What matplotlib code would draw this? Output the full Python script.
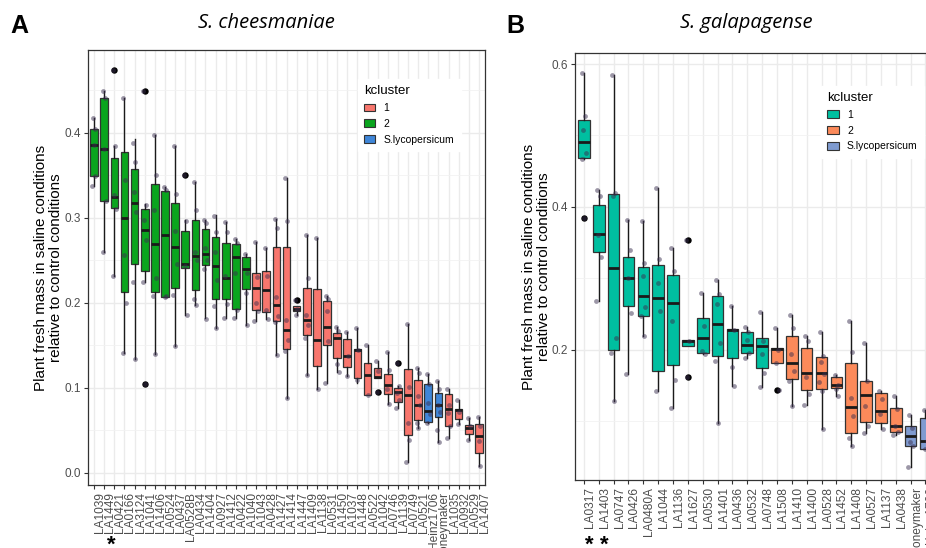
import matplotlib
matplotlib.use("Agg")
import matplotlib.pyplot as plt
from matplotlib.patches import Patch

plt.rcParams['font.family'] = ['Liberation Sans', 'DejaVu Sans']

# ---- panel A: S. cheesmaniae ----
names_a = ['LA1039', 'LA1449', 'LA0421', 'LA0166', 'LA3124', 'LA1041', 'LA1406', 'LA0524',
           'LA0437', 'LA0528B', 'LA0434', 'LA1404', 'LA0927', 'LA1412', 'LA0422', 'LA1040',
           'LA1043', 'LA0428', 'LA1427', 'LA1414', 'LA1447', 'LA1409', 'LA1138', 'LA0531',
           'LA1450', 'LA1037', 'LA1448', 'LA0522', 'LA1042', 'LA0746', 'LA1139', 'LA0749',
           'LA0521', 'Heinz1706', 'Moneymaker', 'LA1035', 'LA0932', 'LA0529', 'LA1407']
clust_a = ['2'] * 16 + ['1'] * 17 + ['S'] * 2 + ['1'] * 4
lo_a = [0.338, 0.260, 0.232, 0.141, 0.134, 0.225, 0.140, 0.207, 0.149, 0.186, 0.197, 0.182, 0.170,
        0.182, 0.182, 0.174, 0.179, 0.181, 0.139, 0.088, 0.186, 0.115, 0.098, 0.106, 0.118, 0.114,
        0.106, 0.092, 0.111, 0.081, 0.076, 0.013, 0.053, 0.058, 0.036, 0.041, 0.057, 0.038, 0.008]
q1_a = [0.349, 0.320, 0.312, 0.213, 0.246, 0.238, 0.213, 0.207, 0.218, 0.241, 0.215, 0.244, 0.204,
        0.204, 0.193, 0.216, 0.191, 0.189, 0.178, 0.146, 0.190, 0.162, 0.126, 0.150, 0.135, 0.124,
        0.111, 0.092, 0.111, 0.093, 0.083, 0.044, 0.062, 0.060, 0.066, 0.055, 0.063, 0.045, 0.023]
med_a = [0.386, 0.381, 0.325, 0.300, 0.318, 0.286, 0.269, 0.280, 0.266, 0.246, 0.255, 0.258, 0.243,
         0.229, 0.254, 0.240, 0.217, 0.215, 0.197, 0.168, 0.193, 0.180, 0.156, 0.172, 0.159, 0.137,
         0.144, 0.115, 0.113, 0.103, 0.095, 0.091, 0.080, 0.073, 0.080, 0.075, 0.074, 0.053, 0.043]
q3_a = [0.405, 0.441, 0.370, 0.377, 0.357, 0.310, 0.340, 0.332, 0.317, 0.284, 0.297, 0.287, 0.277,
        0.270, 0.269, 0.254, 0.235, 0.238, 0.266, 0.266, 0.196, 0.218, 0.216, 0.202, 0.164, 0.157,
        0.146, 0.129, 0.123, 0.116, 0.100, 0.122, 0.109, 0.104, 0.094, 0.093, 0.075, 0.056, 0.057]
hi_a = [0.417, 0.449, 0.384, 0.441, 0.393, 0.316, 0.398, 0.336, 0.385, 0.297, 0.342, 0.298, 0.303,
        0.295, 0.275, 0.258, 0.272, 0.265, 0.299, 0.347, 0.196, 0.280, 0.276, 0.208, 0.172, 0.166,
        0.170, 0.150, 0.132, 0.142, 0.102, 0.175, 0.123, 0.116, 0.108, 0.098, 0.086, 0.064, 0.066]
out_a = {'LA0421': [0.474], 'LA1041': [0.449, 0.104], 'LA0528B': [0.351], 'LA1447': [0.203],
         'LA1042': [0.0945], 'LA1139': [0.129]}
pts_a = [
    [0.417, 0.405, 0.386, 0.349, 0.338], [0.449, 0.441, 0.381, 0.320, 0.260],
    [0.474, 0.384, 0.327, 0.310, 0.232], [0.441, 0.345, 0.256, 0.200, 0.141],
    [0.388, 0.366, 0.330, 0.307, 0.225, 0.134], [0.449, 0.315, 0.298, 0.274, 0.225, 0.104],
    [0.398, 0.350, 0.309, 0.229, 0.208, 0.140], [0.336, 0.333, 0.207, 0.208],
    [0.384, 0.328, 0.285, 0.246, 0.209, 0.149], [0.351, 0.296, 0.243, 0.186],
    [0.342, 0.309, 0.260, 0.250, 0.204, 0.197], [0.298, 0.294, 0.264, 0.250, 0.240, 0.181],
    [0.302, 0.283, 0.260, 0.227, 0.196, 0.170], [0.295, 0.283, 0.231, 0.198, 0.182],
    [0.275, 0.270, 0.235, 0.192, 0.182], [0.258, 0.235, 0.211, 0.174],
    [0.272, 0.230, 0.200, 0.190, 0.179], [0.265, 0.231, 0.192, 0.181],
    [0.299, 0.288, 0.207, 0.185, 0.177, 0.139], [0.347, 0.296, 0.180, 0.156, 0.143, 0.088],
    [0.203, 0.193, 0.186], [0.280, 0.229, 0.186, 0.174, 0.158, 0.115],
    [0.276, 0.098], [0.208, 0.205, 0.190, 0.155, 0.106],
    [0.172, 0.167, 0.128, 0.118], [0.166, 0.137, 0.114],
    [0.170, 0.145, 0.109], [0.150, 0.092],
    [0.131, 0.120, 0.0945], [0.142, 0.121, 0.098, 0.081],
    [0.129, 0.102, 0.094, 0.086, 0.076], [0.175, 0.101, 0.059, 0.038, 0.013],
    [0.123, 0.117, 0.090, 0.080, 0.059, 0.053], [0.116, 0.104, 0.082, 0.069, 0.058],
    [0.108, 0.098, 0.080, 0.071, 0.050, 0.036], [0.098, 0.080, 0.070, 0.055, 0.041],
    [0.086, 0.072, 0.057], [0.064, 0.055, 0.038], [0.066, 0.055, 0.037, 0.008]]

# ---- panel B: S. galapagense ----
names_b = ['LA0317', 'LA1403', 'LA0747', 'LA0426', 'LA0480A', 'LA1044', 'LA1136', 'LA1627',
           'LA0530', 'LA1401', 'LA0436', 'LA0532', 'LA0748', 'LA1508', 'LA1410', 'LA1400',
           'LA0528', 'LA1452', 'LA1408', 'LA0527', 'LA1137', 'LA0438', 'Moneymaker', 'Heinz1706']
clust_b = ['1'] * 13 + ['2'] * 9 + ['S'] * 2
lo_b = [0.467, 0.269, 0.128, 0.166, 0.219, 0.142, 0.118, 0.205, 0.194, 0.098, 0.150, 0.188,
        0.148, 0.181, 0.121, 0.123, 0.089, 0.136, 0.065, 0.084, 0.089, 0.081, 0.036, 0.061]
q1_b = [0.469, 0.337, 0.200, 0.262, 0.248, 0.170, 0.179, 0.205, 0.196, 0.191, 0.188, 0.196,
        0.174, 0.181, 0.159, 0.144, 0.145, 0.146, 0.084, 0.099, 0.097, 0.085, 0.066, 0.061]
med_b = [0.491, 0.362, 0.315, 0.300, 0.276, 0.273, 0.265, 0.212, 0.216, 0.236, 0.228, 0.207,
         0.205, 0.201, 0.181, 0.167, 0.168, 0.151, 0.120, 0.137, 0.114, 0.094, 0.080, 0.073]
q3_b = [0.522, 0.402, 0.418, 0.330, 0.316, 0.318, 0.305, 0.214, 0.245, 0.275, 0.229, 0.225,
        0.216, 0.202, 0.220, 0.203, 0.190, 0.162, 0.181, 0.156, 0.140, 0.118, 0.094, 0.104]
hi_b = [0.587, 0.424, 0.584, 0.382, 0.380, 0.426, 0.343, 0.214, 0.279, 0.298, 0.261, 0.232,
        0.253, 0.230, 0.249, 0.219, 0.225, 0.165, 0.240, 0.210, 0.143, 0.136, 0.109, 0.116]
out_b = {'LA0317': [0.384], 'LA1627': [0.354, 0.162], 'LA1508': [0.144]}
pts_b = [
    [0.587, 0.527, 0.508, 0.475, 0.467, 0.384], [0.424, 0.415, 0.361, 0.330, 0.269],
    [0.584, 0.420, 0.415, 0.216, 0.195, 0.128], [0.382, 0.339, 0.300, 0.251, 0.166],
    [0.380, 0.321, 0.304, 0.260, 0.248, 0.219], [0.426, 0.327, 0.293, 0.255, 0.142],
    [0.343, 0.311, 0.241, 0.158, 0.118], [0.354, 0.212, 0.162],
    [0.279, 0.234, 0.198, 0.194], [0.298, 0.278, 0.264, 0.209, 0.185, 0.098],
    [0.261, 0.228, 0.176, 0.150], [0.232, 0.225, 0.214, 0.196, 0.188],
    [0.253, 0.213, 0.194, 0.168, 0.148], [0.230, 0.200, 0.181, 0.144],
    [0.249, 0.230, 0.194, 0.170, 0.156, 0.121], [0.219, 0.213, 0.162, 0.138, 0.123],
    [0.225, 0.192, 0.183, 0.166, 0.155, 0.143, 0.089], [0.165, 0.151, 0.145, 0.136],
    [0.240, 0.197, 0.133, 0.108, 0.077, 0.065], [0.210, 0.156, 0.121, 0.093, 0.084],
    [0.143, 0.131, 0.110, 0.089], [0.136, 0.117, 0.094, 0.085, 0.081],
    [0.109, 0.091, 0.071, 0.066, 0.036], [0.116, 0.073, 0.061]]

legend_labels = ['1', '2', 'S.lycopersicum']
colors_a = {'1': '#F8766D', '2': '#0AA51E', 'S': '#3F86D8'}
colors_b = {'1': '#00BFA0', '2': '#FC8A5A', 'S': '#7F9BD0'}
jit = [-0.12, 0.08, -0.04, 0.14, -0.16, 0.03, 0.11]

W, H = 926, 548
fig = plt.figure(figsize=(W / 100, H / 100), dpi=100)


def px_axes(x0, y0, x1, y1):
    return fig.add_axes([x0 / W, 1 - y1 / H, (x1 - x0) / W, (y1 - y0) / H])


def panel(ax, names, clust, lo, q1, med, q3, hi, outs, pts, cols, width, ylim, yticks, yminor):
    stats = []
    for i, n in enumerate(names):
        stats.append(dict(med=med[i], q1=q1[i], q3=q3[i], whislo=lo[i], whishi=hi[i],
                          fliers=outs.get(n, [])))
    pos = list(range(len(names)))
    bp = ax.bxp(stats, positions=pos, widths=width, patch_artist=True, showcaps=False,
                boxprops=dict(edgecolor='#333333', linewidth=0.9),
                medianprops=dict(color='#1a1a1a', linewidth=2.0),
                whiskerprops=dict(color='#1a1a1a', linewidth=1.0),
                flierprops=dict(marker='o', markerfacecolor='black', markeredgecolor='black',
                                markersize=3.6))
    for box, c in zip(bp['boxes'], clust):
        box.set_facecolor(cols[c])
    for i, vals in enumerate(pts):
        xs = [i + jit[k % len(jit)] for k in range(len(vals))]
        ax.scatter(xs, vals, s=12, color='#3b3050', alpha=0.5, linewidths=0, zorder=4)

    ax.set_xlim(-0.6, len(names) - 0.4)
    ax.set_ylim(*ylim)
    ax.set_xticks(pos)
    ax.set_xticklabels(names, rotation=90, ha='left', fontsize=8.6, color='#4D4D4D')
    ax.set_yticks(yticks)
    ax.set_yticklabels([f'{t:.1f}' for t in yticks], fontsize=8.5, color='#4D4D4D')
    ax.set_yticks(yminor, minor=True)
    ax.tick_params(which='major', length=3, width=0.8, color='#333333', pad=2)
    ax.tick_params(which='minor', length=0)
    ax.set_axisbelow(True)
    ax.grid(which='major', color='#EBEBEB', linewidth=1.0)
    ax.grid(which='minor', axis='y', color='#F2F2F2', linewidth=0.6)
    for s in ax.spines.values():
        s.set_color('#333333')
        s.set_linewidth(0.9)
    ax.set_ylabel('Plant fresh mass in saline conditions\nrelative to control conditions',
                  fontsize=11, linespacing=1.05)
    handles = [Patch(facecolor=cols[k], edgecolor='#333333', linewidth=0.8) for k in ['1', '2', 'S']]
    return handles


leg_kw = dict(title='kcluster', loc='upper left', fontsize=7.5, title_fontsize=9.5,
              alignment='left', frameon=True, fancybox=False, edgecolor='white',
              framealpha=1, handlelength=1.1, handleheight=0.8, labelspacing=0.55,
              borderpad=0.6, handletextpad=0.8)

axA = px_axes(88, 50, 485, 485)
hA = panel(axA, names_a, clust_a, lo_a, q1_a, med_a, q3_a, hi_a, out_a, pts_a, colors_a, 0.75,
           (-0.0145, 0.4976), [0.0, 0.1, 0.2, 0.3, 0.4], [0.05, 0.15, 0.25, 0.35, 0.45])
axA.yaxis.set_label_coords(-0.063, 0.5)
legA = axA.legend(hA, legend_labels, bbox_to_anchor=(0.666, 0.945), **leg_kw)
legA.set_zorder(10)

# 24 categories shown, the panel runs past the right edge of the figure
axB = px_axes(575, 53, 575 + 24.2 * 14.85, 480)
hB = panel(axB, names_b, clust_b, lo_b, q1_b, med_b, q3_b, hi_b, out_b, pts_b, colors_b, 0.78,
           (0.0178, 0.6154), [0.2, 0.4, 0.6], [0.1, 0.3, 0.5])
axB.yaxis.set_label_coords(-0.068, 0.5)
legB = axB.legend(hB, legend_labels, bbox_to_anchor=(0.67, 0.935), **leg_kw)
legB.set_zorder(10)

# titles, panel letters, asterisks
fig.text(266 / W, 1 - 23 / H, 'S. cheesmaniae', family='Open Sans', style='italic',
         fontsize=14.5, ha='center', va='center')
fig.text(746 / W, 1 - 23 / H, 'S. galapagense', family='Open Sans', style='italic',
         fontsize=14.5, ha='center', va='center')
fig.text(19 / W, 1 - 26 / H, 'A', fontsize=18, weight='bold', ha='center', va='center')
fig.text(515 / W, 1 - 26 / H, 'B', fontsize=18, weight='bold', ha='center', va='center')
for x in [111, 589, 604]:
    fig.text(x / W, 1 - 545 / H, '*', fontsize=16, weight='bold', ha='center', va='center')

fig.savefig('out.png', dpi=100)
